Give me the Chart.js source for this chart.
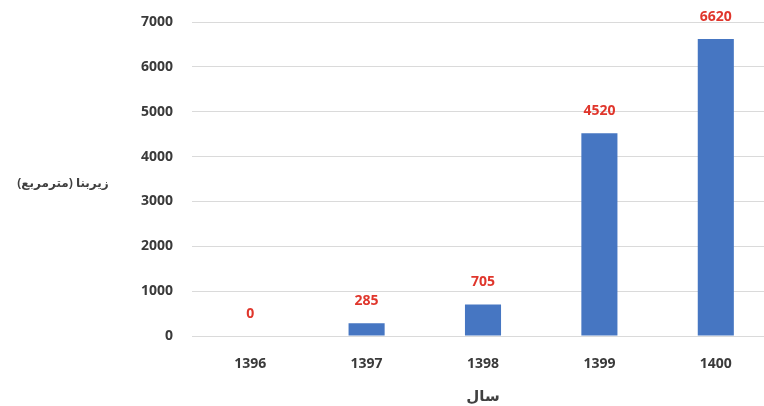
<!DOCTYPE html>
<html lang="fa">
  <head>
    <meta charset="UTF-8" />
    <title>زیربنا</title>
    <script src="https://cdn.jsdelivr.net/npm/chart.js"></script>
    <style>
      html, body { margin: 0; padding: 0; background: #fff; overflow: hidden; }
      #wrap { width: 775px; height: 406px; }
    </style>
  </head>
  <body>
    <div id="wrap"><canvas id="chart" width="775" height="406"></canvas></div>

    <script>
      // داده‌ها
      const years = ["1396", "1397", "1398", "1399", "1400"];
      const area = [0, 285, 705, 4520, 6620];
      const yTicks = [0, 1000, 2000, 3000, 4000, 5000, 6000, 7000];
      const yTitle = "زیربنا (مترمربع)";
      const xTitle = "سال";

      const FONT = "'Open Sans', 'DejaVu Sans', sans-serif";

      /* مقدار بالای ستون‌ها */
      const valueLabels = {
        id: "valueLabels",
        afterDatasetsDraw(chart) {
          const ctx = chart.ctx;
          const meta = chart.getDatasetMeta(0);
          ctx.save();
          ctx.font = "bold 14px " + FONT;
          ctx.fillStyle = "#e0362c";
          ctx.textAlign = "center";
          ctx.textBaseline = "middle";
          meta.data.forEach((bar, i) => {
            ctx.fillText(String(area[i]), bar.x, bar.y - 22);
          });
          ctx.restore();
        }
      };

      /* عنوان افقی محور y */
      const yTitlePlugin = {
        id: "yTitlePlugin",
        afterDraw(chart) {
          const ctx = chart.ctx;
          const s = chart.scales.y;
          ctx.save();
          ctx.font = "bold 12px " + FONT;
          ctx.fillStyle = "#404040";
          ctx.textAlign = "center";
          ctx.textBaseline = "middle";
          ctx.direction = "rtl";
          ctx.fillText(yTitle, 63, s.getPixelForValue(3400));
          ctx.restore();
        }
      };

      new Chart(document.getElementById("chart"), {
        type: "bar",
        data: {
          labels: years,
          datasets: [{
            data: area,
            backgroundColor: "#4676c2",
            barPercentage: 0.62,
            categoryPercentage: 0.5
          }]
        },
        options: {
          responsive: false,
          animation: false,
          layout: { padding: { top: 22, right: 1, bottom: 0, left: 0 } },
          plugins: { legend: { display: false }, tooltip: { enabled: false } },
          scales: {
            x: {
              afterFit(scale) { scale.height = 70; },
              grid: { display: false },
              border: { display: false },
              ticks: { color: "#3a3a3a", font: { family: FONT, size: 14, weight: "bold" }, padding: 12 },
              title: {
                display: true,
                text: xTitle,
                color: "#404040",
                font: { family: FONT, size: 15, weight: "bold" },
                padding: { top: 0, bottom: 0 }
              }
            },
            y: {
              min: 0,
              max: 7000,
              afterBuildTicks(scale) {
                scale.ticks = yTicks.map(v => ({ value: v }));
              },
              afterFit(scale) {
                scale.width = 192;
                scale.paddingTop = 0;
                scale.paddingBottom = 0;
              },
              grid: { color: "#dadada", drawTicks: false },
              border: { display: false },
              ticks: {
                color: "#3a3a3a",
                font: { family: FONT, size: 14, weight: "bold" },
                padding: 19,
                callback: v => String(v)
              }
            }
          }
        },
        plugins: [valueLabels, yTitlePlugin]
      });
    </script>
  </body>
</html>
